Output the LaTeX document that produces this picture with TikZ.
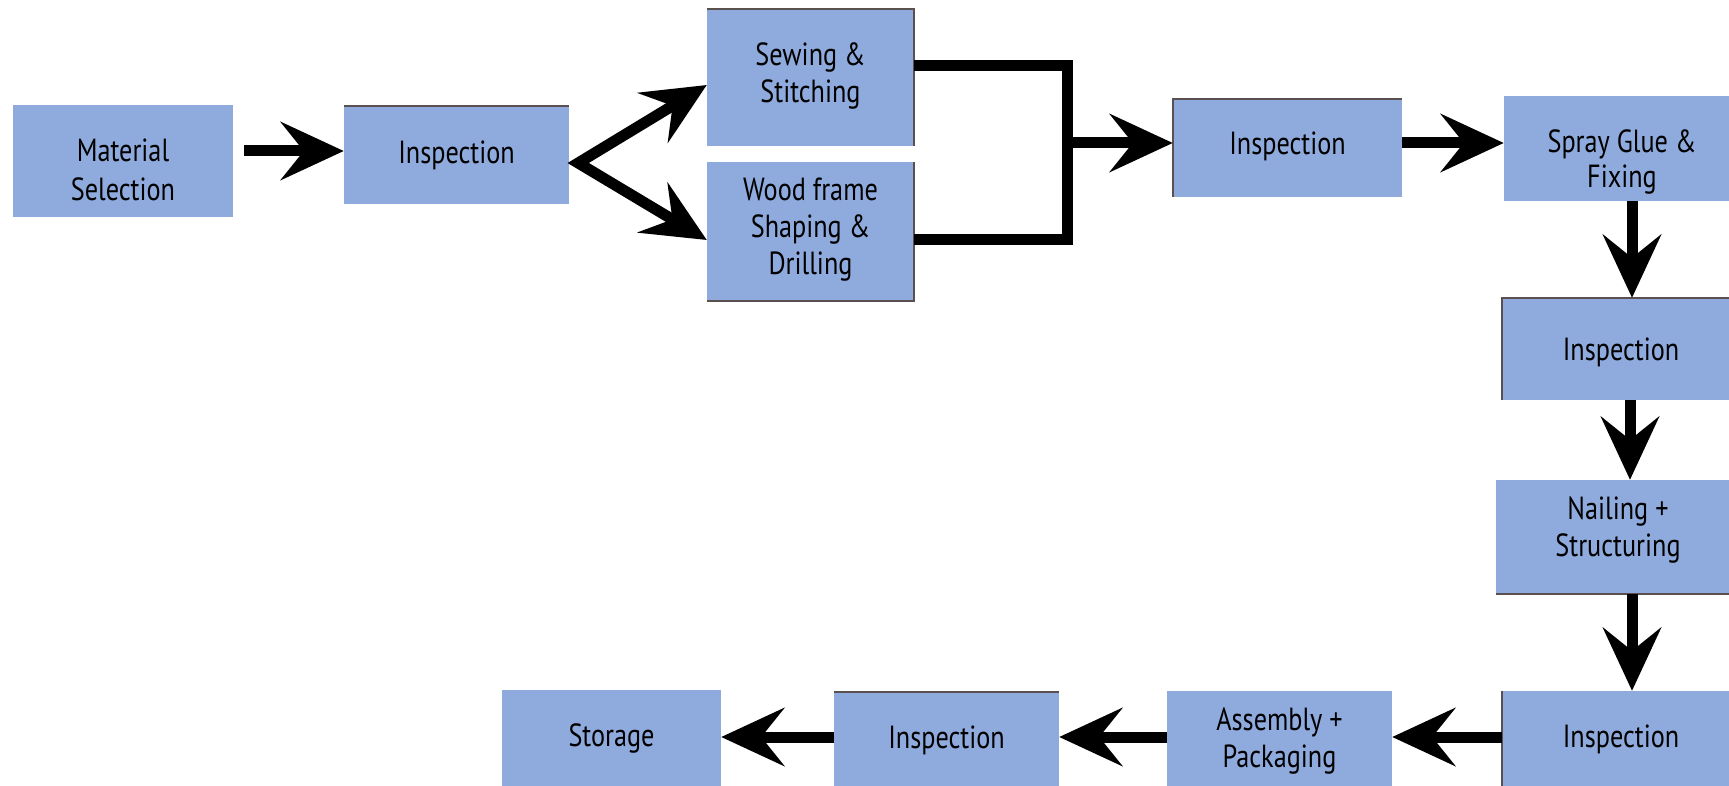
\documentclass[tikz,border=0pt]{standalone}
\usepackage{fontspec}
\setmainfont{PT Sans}[FakeStretch=0.82]
\usetikzlibrary{arrows.meta}
\definecolor{boxblue}{HTML}{8FAADC}
\definecolor{rimgray}{HTML}{5A5050}
\begin{document}
\begin{tikzpicture}[x=1pt,y=-1pt,
  box/.style={fill=boxblue, draw=none, inner sep=0pt},
  txt/.style={align=center, inner sep=0pt, font=\fontsize{32}{38}\selectfont},
  tx/.style 2 args={label={[txt, yshift=#1]center:{#2}}},
  rim/.style={line width=1.6pt, rimgray},
  conn/.style={line width=11pt, black},
  tip/.tip={Stealth[length=63pt,width=58pt,inset=23pt]},
  arr/.style={conn, -tip},
]
\path[use as bounding box] (0,0) rectangle (1729,786);
\clip (0,0) rectangle (1729,786);

% boxes
\node[box, minimum width=220pt, minimum height=112pt, tx={-9pt}{Material\\[1pt]Selection}] (ms) at (123,161) {};
\node[box, minimum width=225pt, minimum height=98pt, tx={0pt}{Inspection}] (i1) at (456.5,155) {};
\node[box, minimum width=207pt, minimum height=137pt, tx={1pt}{Sewing \&\\[-1pt]Stitching}] (sew) at (810.5,77.5) {};
\node[box, minimum width=207pt, minimum height=139pt, tx={2pt}{Wood frame\\[-1pt]Shaping \&\\[-1pt]Drilling}] (wood) at (810.5,231.5) {};
\node[box, minimum width=229pt, minimum height=98pt, tx={1.5pt}{Inspection}] (i2) at (1287.5,148) {};
\node[box, minimum width=236pt, minimum height=105pt, tx={-14pt}{Spray Glue \&\\[-3pt]Fixing}] (spray) at (1622,148.5) {};
\node[box, minimum width=238pt, minimum height=102pt, tx={-3.5pt}{Inspection}] (i3) at (1621,349) {};
\node[box, minimum width=244pt, minimum height=114pt, tx={7pt}{Nailing +\\[-1pt]Structuring}] (nail) at (1618,537) {};
\node[box, minimum width=238pt, minimum height=95pt, tx={-1pt}{Inspection}] (i4) at (1621,738.5) {};
\node[box, minimum width=225pt, minimum height=95pt, tx={-3pt}{Assembly +\\[-1pt]Packaging}] (asm) at (1279.5,738.5) {};
\node[box, minimum width=225pt, minimum height=94pt, tx={-1pt}{Inspection}] (i5) at (946.5,739) {};
\node[box, minimum width=219pt, minimum height=96pt, tx={0pt}{Storage}] (sto) at (611.5,738) {};

% thin dark rims seen on some boxes
\draw[rim] (i1.north west) -- (i1.north east);
\draw[rim] (i2.south west) -- (i2.north west) -- (i2.north east);
\draw[rim] (sew.north west) -- (sew.north east) -- (sew.south east);
\draw[rim] (wood.north east) -- (wood.south east) -- (wood.south west);
\draw[rim] (i3.south west) -- (i3.north west) -- (i3.north east);
\draw[rim] (i4.south west) -- (i4.north west);
\draw[rim] (nail.south west) -- (nail.south east);
\draw[rim] (i5.north west) -- (i5.north east);

% Material selection -> inspection
\coordinate (a1) at ([yshift=4pt]i1.west);
\draw[arr, shorten <=11pt] (a1 -| ms.east) -- (a1);

% fork
\coordinate (fork) at ([xshift=9pt,yshift=-8pt]i1.east);
\coordinate (sT) at ([yshift=-7.5pt]sew.west);
\coordinate (wT) at ([yshift=-8.5pt]wood.west);
\draw[conn, tip-tip] (sT) -- (fork) -- (wT);

% bracket join
\coordinate (jx) at ([xshift=153pt]sew.east);
\coordinate (sA) at ([yshift=11.5pt]sew.east);
\coordinate (wA) at ([yshift=-8.5pt]wood.east);
\draw[conn] (sA) -| (jx |- wA) -- (wA);
\coordinate (iA) at ([yshift=5pt]i2.west);
\draw[arr] (jx |- iA) -- (iA);

% inspection -> spray
\coordinate (iB) at ([yshift=5pt]i2.east);
\draw[arr] (iB) -- (iB -| spray.west);

% right column
\coordinate (c1) at ([xshift=10pt]spray.south);
\draw[arr] (c1) -- (c1 |- i3.north);
\coordinate (c2) at ([xshift=9pt]i3.south);
\draw[arr] (c2) -- (c2 |- nail.north);
\coordinate (c3) at ([xshift=14pt]nail.south);
\draw[arr] (c3) -- (c3 |- i4.north);

% bottom row
\coordinate (b1) at ([yshift=1.5pt]i4.west);
\draw[arr] (b1) -- (b1 -| asm.east);
\coordinate (b2) at ([yshift=1.5pt]asm.west);
\draw[arr] (b2) -- (b2 -| i5.east);
\coordinate (b3) at ([yshift=2pt]i5.west);
\draw[arr] (b3) -- (b3 -| sto.east);
\end{tikzpicture}
\end{document}
